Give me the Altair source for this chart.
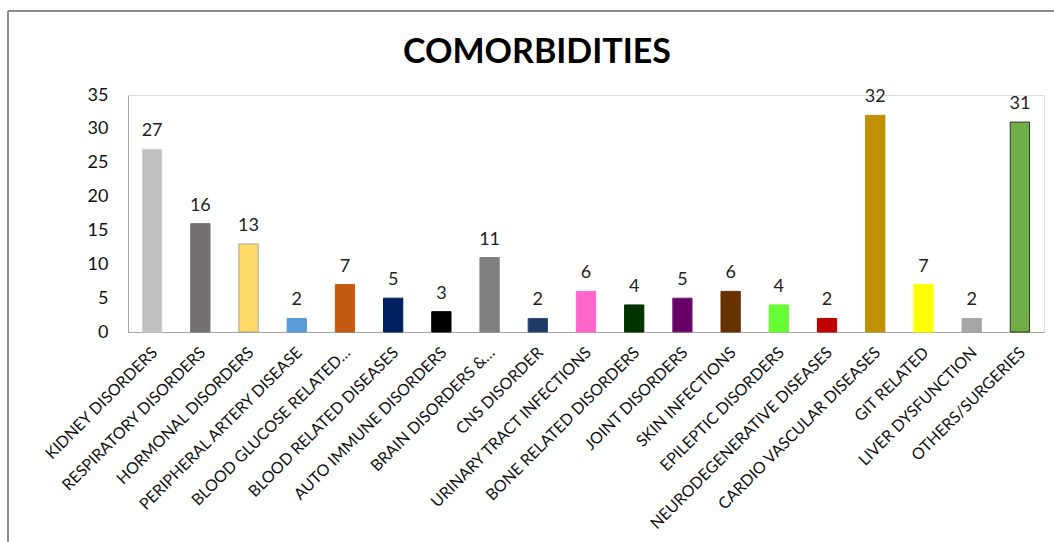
import altair as alt
import pandas as pd

# Comorbidity counts
categories = [
    "KIDNEY DISORDERS", "RESPIRATORY DISORDERS", "HORMONAL DISORDERS",
    "PERIPHERAL ARTERY DISEASE", "BLOOD GLUCOSE RELATED…", "BLOOD RELATED DISEASES",
    "AUTO IMMUNE DISORDERS", "BRAIN DISORDERS &…", "CNS DISORDER",
    "URINARY TRACT INFECTIONS", "BONE RELATED DISORDERS", "JOINT DISORDERS",
    "SKIN INFECTIONS", "EPILEPTIC DISORDERS", "NEURODEGENERATIVE DISEASES",
    "CARDIO VASCULAR DISEASES", "GIT RELATED", "LIVER DYSFUNCTION", "OTHERS/SURGERIES",
]
counts = [27, 16, 13, 2, 7, 5, 3, 11, 2, 6, 4, 5, 6, 4, 2, 32, 7, 2, 31]
fills = [
    "#BFBFBF", "#767171", "#FFD966", "#5B9BD5", "#C55A11", "#002060",
    "#000000", "#808080", "#203864", "#FF66CC", "#003300", "#660066",
    "#663300", "#66FF33", "#C00000", "#BF9000", "#FFFF00", "#A6A6A6", "#70AD47",
]
outlines = [
    "#D0D0D0", "#767171", "#A5A5A5", "#5B9BD5", "#C55A11", "#002060",
    "#000000", "#808080", "#2F4A7A", "#FF66CC", "#003300", "#7A2A7A",
    "#663300", "#66FF33", "#C00000", "#BF9000", "#FFFF00", "#A6A6A6", "#2E3B22",
]

df = pd.DataFrame({"cat": categories, "n": counts, "fill": fills, "line": outlines})

FONT = "Lato"
W, H = 916, 237

x = alt.X("cat:N", sort=categories, title=None,
          scale=alt.Scale(paddingInner=0.6, paddingOuter=0.3),
          axis=alt.Axis(labelAngle=-45, labelFontSize=16, labelFont=FONT,
                        labelColor="#111111", ticks=False, domainColor="#A6A6A6",
                        labelPadding=12, labelOffset=-3, labelLimit=400))
y = alt.Y("n:Q", title=None,
          scale=alt.Scale(domain=[0, 35], nice=False),
          axis=alt.Axis(values=[0, 5, 10, 15, 20, 25, 30, 35], grid=False, ticks=False,
                        domainColor="#A6A6A6", labelFontSize=18, labelFont=FONT,
                        labelColor="#111111", labelPadding=20))

base = alt.Chart(df)

bars = base.mark_bar(strokeWidth=1).encode(
    x=x, y=y,
    color=alt.Color("fill:N", scale=None),
    stroke=alt.Stroke("line:N", scale=None),
)

values = base.mark_text(baseline="alphabetic", dy=-13, fontSize=18, font=FONT,
                        color="#222222").encode(x=x, y=y, text="n:Q")

# outer chart frame (left and top edges)
frame_left = alt.Chart(df).mark_rule(color="#8C8C8C", strokeWidth=1.5).encode(
    x=alt.value(-120), y=alt.value(-84), y2=alt.value(460))
frame_top = alt.Chart(df).mark_rule(color="#8C8C8C", strokeWidth=1.5).encode(
    x=alt.value(-120), x2=alt.value(940), y=alt.value(-84))

chart = alt.layer(frame_left, frame_top, bars, values).properties(
    width=W, height=H,
    padding={"left": 128, "top": 95, "right": 10, "bottom": 210},
    autosize=alt.AutoSizeParams(type="none"),
    title=alt.TitleParams("COMORBIDITIES", font=FONT, fontSize=34, fontWeight="bold",
                          color="#000000", anchor="middle", frame="group",
                          baseline="alphabetic", offset=-87, dx=-49),
).configure_view(stroke=None).configure(background="white")

chart.save("out.html", embed_options={"renderer": "svg", "actions": False})
